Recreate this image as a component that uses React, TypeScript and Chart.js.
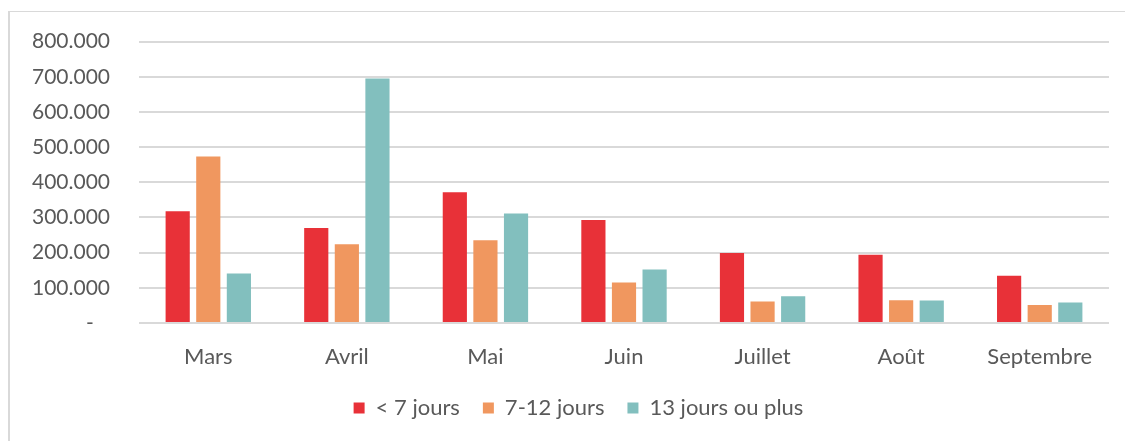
import React, { useEffect, useRef } from "react";
import { Chart, registerables } from "chart.js";

Chart.register(...registerables);

const categories = ["Mars", "Avril", "Mai", "Juin", "Juillet", "Août", "Septembre"];
const seriesNames = ["< 7 jours", "7-12 jours", "13 jours ou plus"];
const lessThan7 = [318000, 270000, 372000, 293000, 199000, 194000, 134000];
const from7to12 = [473000, 224000, 235000, 115000, 61000, 65000, 51000];
const over13 = [141000, 695000, 311000, 152000, 76000, 64000, 58000];
const seriesColors = ["#E83138", "#F0975F", "#82BFBE"];
const yMax = 800000;
const yStep = 100000;

function formatTick(v: number): string {
  if (v === 0) return "-   ";
  return String(Math.round(v)).replace(/\B(?=(\d{3})+(?!\d))/g, ".");
}

const legendShift = {
  id: "legendShift",
  afterLayout(chart: any) {
    const lg = chart.legend;
    if (lg) {
      lg.left += 14;
      lg.right += 14;
    }
  },
};

export default function App() {
  const ref = useRef<HTMLCanvasElement | null>(null);

  useEffect(() => {
    if (!ref.current) return;
    const font = { family: "Lato", size: 22 };
    const yFont = { family: "Lato", size: 21 };
    const chart = new Chart(ref.current, {
      type: "bar",
      data: {
        labels: categories,
        datasets: [lessThan7, from7to12, over13].map((d, i) => ({
          label: seriesNames[i],
          data: d,
          backgroundColor: seriesColors[i],
          borderWidth: 0,
          categoryPercentage: 0.6625,
          barPercentage: 0.79,
        })),
      },
      plugins: [legendShift],
      options: {
        animation: false,
        responsive: false,
        maintainAspectRatio: false,
        layout: { padding: { left: 20, right: 16, top: 40, bottom: 12 } },
        plugins: {
          tooltip: { enabled: false },
          legend: {
            position: "bottom",
            labels: {
              font,
              color: "#595959",
              boxWidth: 11,
              boxHeight: 11,
              padding: 23,
            },
          },
        },
        scales: {
          x: {
            grid: { display: false },
            border: { display: false },
            ticks: { font, color: "#595959", padding: 13 },
            afterFit: (s: any) => {
              s.height = 51;
            },
          },
          y: {
            min: 0,
            max: yMax,
            grid: { color: "#d9d9d9", lineWidth: 2, drawTicks: false },
            border: { display: false },
            ticks: {
              stepSize: yStep,
              font: yFont,
              color: "#595959",
              padding: 29,
              callback: (v: any) => formatTick(Number(v)),
            },
            afterFit: (s: any) => {
              s.width = 119;
            },
          },
        },
      },
    });
    return () => chart.destroy();
  }, []);

  return (
    <div style={{ position: "fixed", left: 0, top: 0, width: 1125, height: 441, background: "#fff", overflow: "hidden" }}>
      <div
        style={{
          position: "absolute",
          left: 8,
          top: 11,
          width: 1130,
          height: 450,
          borderLeft: "2px solid #d9d9d9",
          borderTop: "1px solid #d9d9d9",
          boxSizing: "border-box",
        }}
      />
      <canvas ref={ref} width={1125} height={441} style={{ position: "absolute", left: 0, top: 0 }} />
    </div>
  );
}
